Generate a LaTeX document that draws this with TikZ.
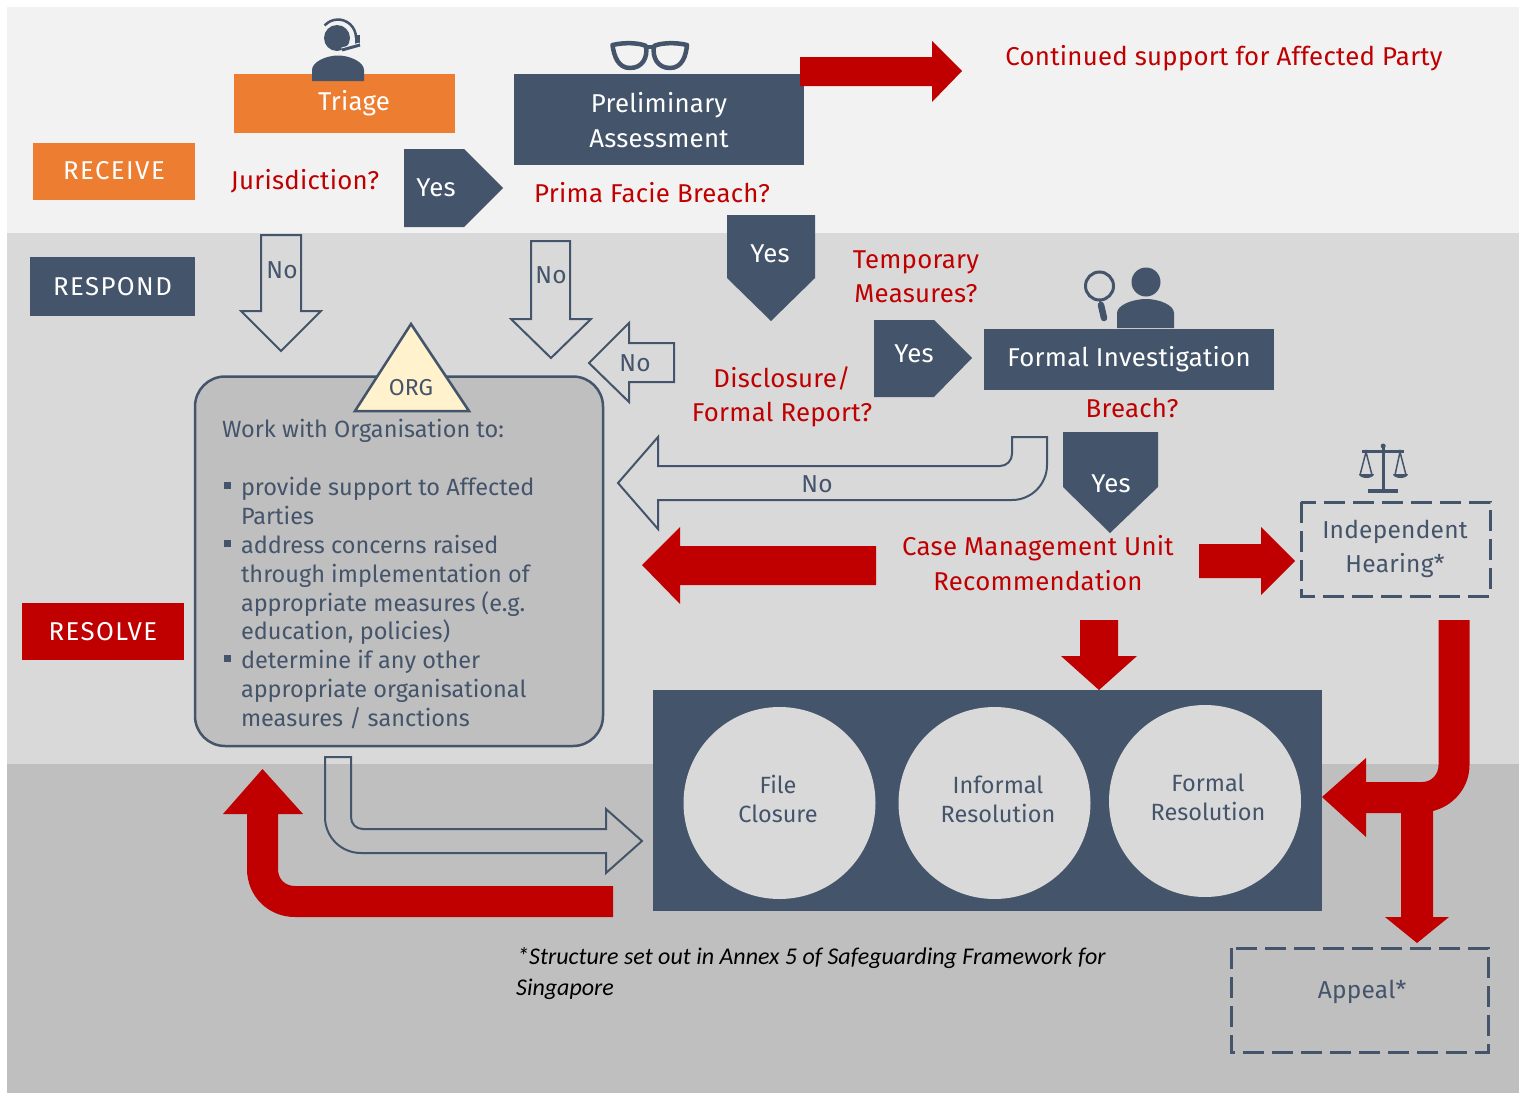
\documentclass[tikz,border=0pt]{standalone}
\usepackage{fontspec}
\setmainfont{Fira Sans}
\newfontfamily\labfont[LetterSpace=1]{Fira Sans}
\newfontfamily\tagfont[LetterSpace=5.5]{Fira Sans}
\newfontfamily\notefont{Carlito}
\definecolor{navy}{HTML}{44546A}
\definecolor{orangeb}{HTML}{ED7D31}
\definecolor{redb}{HTML}{C00000}
\definecolor{zonea}{HTML}{F2F2F2}
\definecolor{zoneb}{HTML}{D9D9D9}
\definecolor{zonec}{HTML}{BFBFBF}
\definecolor{cream}{HTML}{FFF2CC}
\tikzset{
 lab/.style={inner sep=0pt,outer sep=0pt,align=center,font=\labfont\fontsize{25.8}{34.5}\selectfont},
 tag/.style={lab,text=white,font=\tagfont\fontsize{25.8}{30}\selectfont},
 small/.style={lab,font=\fontsize{23.5}{29}\selectfont},
 redt/.style={lab,text=redb},
 whitet/.style={lab,text=white},
 navyt/.style={lab,text=navy,font=\labfont\fontsize{24.5}{34.5}\selectfont},
 redfill/.style={fill=redb,draw=none},
 navyfill/.style={fill=navy,draw=none},
 hollow/.style={draw=navy,line width=2pt,line join=miter},
 dashbox/.style={draw=navy,line width=3pt,dash pattern=on 21pt off 8pt},
 listt/.style={lab,text=navy,anchor=base west,font=\fontsize{23.5}{29}\selectfont},
 notet/.style={inner sep=0pt,anchor=base west,font=\notefont\itshape\fontsize{24}{30}\selectfont},
}
\begin{document}
\begin{tikzpicture}[x=1pt,y=-1pt]
\useasboundingbox (0,0) rectangle (1519,1093);
% zones
\fill[zonea] (7,7) rectangle (1519,233);
\fill[zoneb] (7,233) rectangle (1519,764);
\fill[zonec] (7,764) rectangle (1519,1093);

% phase tags
\fill[orangeb] (33,143) rectangle (195,200);
\node[tag] (receive) at (114,171) {RECEIVE};
\fill[navy] (30,257) rectangle (195,316);
\node[tag] (respond) at (112.5,287) {RESPOND};
\fill[redb] (22,603) rectangle (184,660);
\node[tag] (resolve) at (103,632) {RESOLVE};

% triage
\fill[orangeb] (234,74) rectangle (455,133);
\node[whitet] (triage) at (354,103) {Triage};
% headset person
\fill[navy] (337,38) circle (13);
\fill[navy] (312,81) -- (312,70) .. controls (312,62) and (326,55.5) .. (338,55.5) .. controls (350,55.5) and (364,62) .. (364,70) -- (364,81) -- cycle;
\draw[navy,line width=2.5pt] (324.6,25.5) arc[start angle=-138,end angle=0,radius=18];
\fill[navy] (355,35) rectangle (360,46);
\draw[zonea,line width=5pt] (360,45) -- (342,50);
\draw[navy,line width=3pt] (360,45) -- (342,50);

% preliminary
\fill[navy] (514,74) rectangle (804,165);
\node[whitet] (prelim) at (659,120) {Preliminary\\Assessment};
% glasses
\draw[navy,line width=4.5pt,line join=round] (612.5,45) .. controls (625,42) and (640,43) .. (646,46) .. controls (648,58) and (642,68) .. (630,68) .. controls (618,68) and (614,56) .. (612.5,45) -- cycle;
\draw[navy,line width=4.5pt,line join=round] (687,45) .. controls (675,42) and (660,43) .. (654,46) .. controls (652,58) and (658,68) .. (670,68) .. controls (682,68) and (686,56) .. (687,45) -- cycle;
\draw[navy,line width=4.5pt] (646,47) -- (654,47);

% continued arrow
\draw[redfill] (800,57) -- (932,57) -- (932,41) -- (962,71) -- (932,102) -- (932,86) -- (800,86) -- cycle;
\node[redt] (continued) at (1224,58) {Continued support for Affected Party};

\node[redt] (juris) at (305,181) {Jurisdiction?};
\draw[navyfill] (404,149) -- (464,149) -- (503,188) -- (464,227) -- (404,227) -- cycle;
\node[whitet] (yesa) at (436,188) {Yes};
\node[redt] (prima) at (652,193) {Prima Facie Breach?};

\draw[navyfill] (727,215) -- (815,215) -- (815,278) -- (771,321) -- (727,278) -- cycle;
\node[whitet] (yesb) at (770,254) {Yes};
\node[redt] (temp) at (916,277) {Temporary\\Measures?};
\draw[navyfill] (874,320) -- (934,320) -- (972,358) -- (934,397) -- (874,397) -- cycle;
\node[whitet] (yesc) at (914,354) {Yes};
\node[redt] (discl) at (782,397) {Disclosure/\\Formal Report?};

% formal investigation
\fill[navy] (984,329) rectangle (1274,390);
\node[whitet] (formal) at (1129,359) {Formal Investigation};
\fill[navy] (1146,282) circle (14.5);
\fill[navy] (1117,328) -- (1117,313) .. controls (1117,305) and (1133,299) .. (1146,299) .. controls (1159,299) and (1174,305) .. (1174,313) -- (1174,328) -- cycle;
\draw[navy,line width=3pt] (1099.5,286) circle (14);
\draw[navy,line width=6.5pt,line cap=round] (1101,305) -- (1104,318);
\draw[navy,line width=2pt] (1100,300) -- (1101,305);

\node[redt] (breach) at (1132,407.5) {Breach?};
\draw[navyfill] (1063,432) -- (1158,432) -- (1158,487) -- (1110,533) -- (1063,487) -- cycle;
\node[whitet] (yesd) at (1111,484) {Yes};
\node[redt] (cmu) at (1038,563) {Case Management Unit\\Recommendation};

% big "No" arrow
\draw[hollow,fill=zoneb] (618,483) -- (658,437) -- (658,466) -- (1000,466) arc[start angle=90,end angle=0,radius=12] -- (1012,437) -- (1047,437) -- (1047,465) arc[start angle=0,end angle=90,radius=35] -- (658,500) -- (658,529) -- cycle;
\node[navyt] (nob) at (817,484) {No};

% hollow down & left arrows
\draw[hollow] (261,235) -- (301,235) -- (301,311) -- (321,311) -- (281,351) -- (241,311) -- (261,311) -- cycle;
\node[navyt] (noa) at (282,270) {No};
\draw[hollow] (531,241) -- (570,241) -- (570,319) -- (591,319) -- (551,358) -- (511,319) -- (531,319) -- cycle;
\node[navyt] (noc) at (551,275) {No};
\draw[hollow] (589,363) -- (629,323) -- (629,343) -- (674,343) -- (674,382) -- (629,382) -- (629,402) -- cycle;
\node[navyt] (nod) at (635,363) {No};

% organisation box
\draw[fill=zonec,draw=navy,line width=2.5pt,rounded corners=30pt] (195,376.5) rectangle (603,746);
\draw[fill=cream,draw=navy,line width=2.5pt,line join=miter] (411,324) -- (469,411) -- (355,411) -- cycle;
\node[lab,text=navy,font=\fontsize{23}{28}\selectfont] (org) at (411,388) {ORG};
\node[listt] (work) at (222,437) {Work with Organisation to:};
\foreach \n/\yy/\tx in {la/495/provide support to Affected,lb/524/Parties,lc/553/address concerns raised,ld/582/through implementation of,le/611/appropriate measures (e.g.,lf/639/{education, policies)},lg/668/determine if any other,lh/697/appropriate organisational,li/726/measures \slash{} sanctions}{
  \node[listt] (\n) at (241,\yy) {\tx};
}
\foreach \yy in {482,540,655}{ \fill[navy] (224,\yy) rectangle (231,\yy+7); }

% case management arrows
\draw[redfill] (876,546) -- (680,546) -- (680,527) -- (642,565) -- (680,604) -- (680,585) -- (876,585) -- cycle;
\draw[redfill] (1199,544) -- (1261,544) -- (1261,527) -- (1295,561) -- (1261,595) -- (1261,578) -- (1199,578) -- cycle;
\draw[redfill] (1080,620) -- (1118,620) -- (1118,656) -- (1137,656) -- (1099,690) -- (1061,656) -- (1080,656) -- cycle;

% independent hearing
\draw[dashbox] (1301,502) rectangle (1490,596);
\node[navyt] (hearing) at (1395,549) {Independent\\Hearing*};
% scales
\fill[navy] (1381.5,447) rectangle (1385,489);
\fill[navy] (1383.2,446) circle (2.5);
\fill[navy] (1362,450) rectangle (1404,453);
\fill[navy] (1368,489) rectangle (1398,493);
\draw[navy,line width=1.5pt] (1360,475) -- (1366,452) -- (1372,475);
\draw[navy,line width=1.5pt] (1395,475) -- (1400,452) -- (1406,475);
\fill[navy] (1359,474) arc[start angle=180,end angle=360,x radius=7.5,y radius=-4] -- cycle;
\fill[navy] (1393,474) arc[start angle=180,end angle=360,x radius=7.5,y radius=-4] -- cycle;

% outcomes panel
\fill[navy] (653,690) rectangle (1322,911);
\fill[zoneb] (779.5,803) circle (96);
\fill[zoneb] (994.5,803) circle (96);
\fill[zoneb] (1205,801) circle (96);
\node[small,text=navy] (closure) at (778,799) {File\\Closure};
\node[small,text=navy] (informal) at (998,799) {Informal\\Resolution};
\node[small,text=navy] (formalres) at (1208,797) {Formal\\Resolution};

% J arrow with branch
\draw[redfill] (1438.5,620) -- (1469.5,620) -- (1469.5,765) .. controls (1469.5,788) and (1453,806) .. (1433,811) -- (1433,917) -- (1449,917) -- (1417,943) -- (1385,917) -- (1401,917) -- (1401,813) -- (1366,813) -- (1366,837) -- (1322,797) -- (1366,758) -- (1366,782) -- (1422,782) .. controls (1432,782) and (1438.5,774) .. (1438.5,765) -- cycle;
\draw[dashbox] (1231,948) rectangle (1488,1052);
\node[navyt] (appeal) at (1362,992) {Appeal*};

% return arrows
\draw[redfill] (613,886) -- (295,886) .. controls (285,886) and (278,879) .. (278,869) -- (278,814) -- (303,814) -- (262.5,769) -- (223,814) -- (247,814) -- (247,869) .. controls (247,896) and (268,917) .. (295,917) -- (613,917) -- cycle;
\draw[hollow] (325,757) -- (351,757) -- (351,817) .. controls (351,824) and (356,829) .. (363,829) -- (606,829) -- (606,809) -- (642,841) -- (606,873) -- (606,853) -- (361,853) .. controls (341,853) and (325,837) .. (325,817) -- cycle;

% note
\node[notet] (note) at (517,964) {*Structure set out in Annex 5 of Safeguarding Framework for};
\node[notet] (noteb) at (516,995) {Singapore};
\end{tikzpicture}
\end{document}
